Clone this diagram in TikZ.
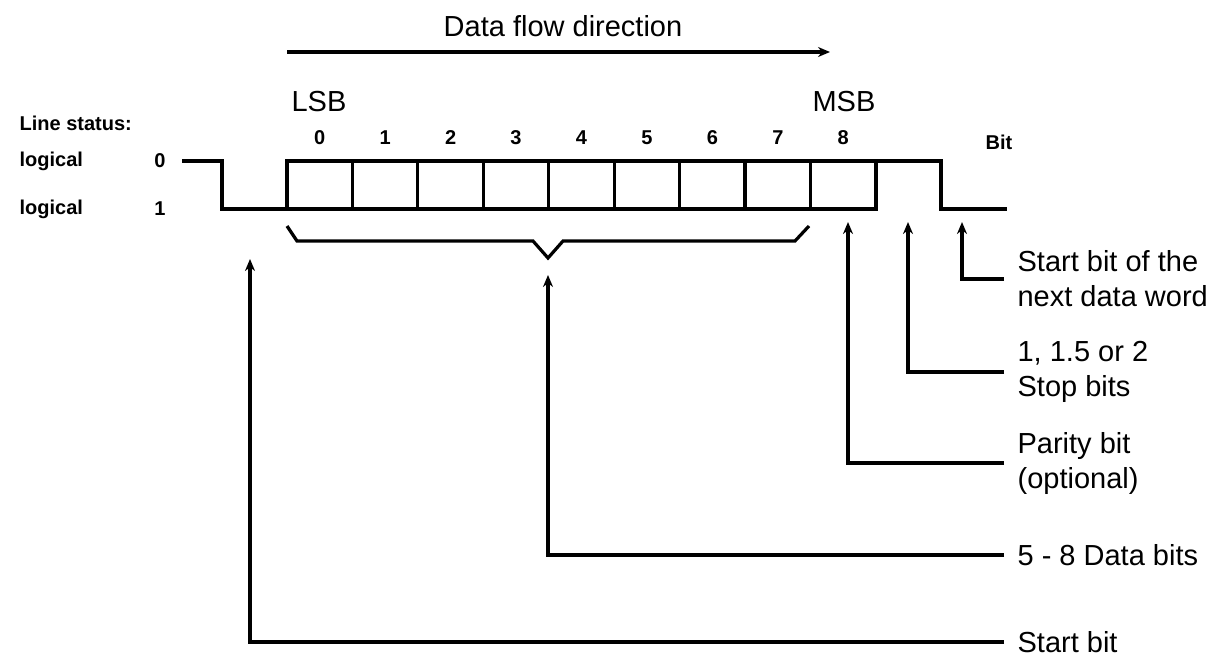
\documentclass[tikz,border=0pt]{standalone}
\usepackage{fontspec}
\setmainfont{Liberation Sans}
\usetikzlibrary{arrows.meta, positioning}

\begin{document}
\begin{tikzpicture}[x=0.5pt, y=-0.5pt, >={Stealth[length=6pt, width=5pt]}, line width=1.6pt,
    big/.style={font=\fontsize{14.5}{17.5}\selectfont, inner sep=0pt},
    small/.style={font=\fontsize{10}{12}\selectfont\bfseries, inner sep=0pt},
    lbl/.style={big, anchor=west, align=left, inner xsep=6pt},
    cell/.style={draw, minimum width=32.72pt, minimum height=24pt, inner sep=0pt, outer sep=0pt}]
  \useasboundingbox (0,0) rectangle (1214,659);

  % Datovy smer
  \node[big] (flow) at (563,26) {Data flow direction};
  \coordinate (flowA) at (287,52);
  \coordinate (flowB) at (830,52);
  \draw[->] (flowA) -- (flowB);

  % Stav linky
  \node[small, anchor=west] (status) at (18,123) {Line status:};
  \node[small, anchor=west] (log0) at (18,161) {logical};
  \node[small, anchor=west] (log1) at (18,209) {logical};
  \node[small] (lev0) at (160,161) {0};
  \node[small] (lev1) at (160,209) {1};

  % Bity 0..8
  \foreach \i in {0,...,8} {
    \node[cell] (bit\i) at ({287+65.44*\i+32.72},185) {};
    \node[small] (num\i) at ({287+65.44*\i+32.72},138) {\i};
  }
  \node[big] (lsb) at (319,102) {LSB};
  \node[big] (msb) at (844,102) {MSB};
  \node[small] (bitlbl) at (999,142) {Bit};

  % Prubeh signalu
  \draw (182,161) -- (222,161) -- (222,209) -- (bit0.south west);
  \draw (bit8.north east) -- (941,161) -- (941,209) -- (1007,209);

  % Slozena zavorka
  \coordinate (bracetip) at (548,258);
  \draw (287,226) -- (297,241) -- (533,241) -- (bracetip) -- (563,241) -- (795,241) -- (809,226);

  % Popisky
  \node[lbl] (lnext) at (1004,279) {Start bit of the\\next data word};
  \node[lbl] (lstop) at (1004,372) {1, 1.5 or 2\\Stop bits};
  \node[lbl] (lparity) at (1004,463) {Parity bit\\(optional)};
  \node[lbl] (ldata) at (1004,555) {5 - 8 Data bits};
  \node[lbl] (lstart) at (1004,642) {Start bit};

  \coordinate (tnext) at (962,222);
  \coordinate (tstop) at (908,222);
  \coordinate (tparity) at (848,222);
  \coordinate (tdata) at (548,275);
  \coordinate (tstart) at (250,259);

  \draw[->] (lnext.west) -| (tnext);
  \draw[->] (lstop.west) -| (tstop);
  \draw[->] (lparity.west) -| (tparity);
  \draw[->] (ldata.west) -| (tdata);
  \draw[->] (lstart.west) -| (tstart);
\end{tikzpicture}
\end{document}
